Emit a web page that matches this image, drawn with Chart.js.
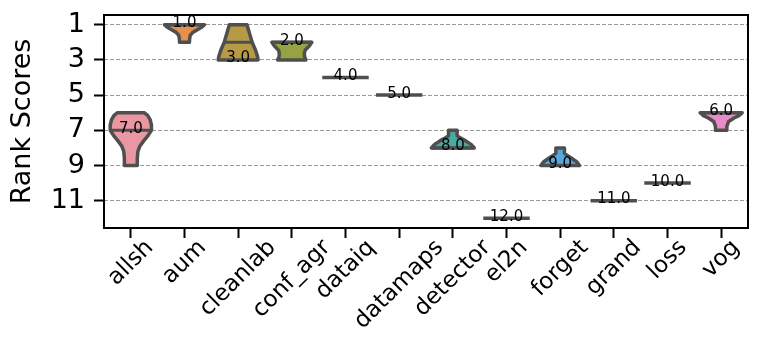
<!DOCTYPE html>
<html>
<head>
<meta charset="utf-8">
<script src="https://cdn.jsdelivr.net/npm/chart.js@4"></script>
<style>
    html, body { margin: 0; padding: 0; background: #ffffff; }
    #wrap { width: 761px; height: 341px; }
</style>
</head>
<body>
<div id="wrap"><canvas id="rankViolins" width="761" height="341"></canvas></div>
<script>
const methods = ['allsh', 'aum', 'cleanlab', 'conf_agr', 'dataiq', 'datamaps', 'detector', 'el2n', 'forget', 'grand', 'loss', 'vog'];
const medianLabels = [7, 1, 3, 2, 4, 5, 8, 12, 9, 11, 10, 6];
const innerLineRanks = [7, 1, 2, 2, 4, 5, 8, 12, 9, 11, 10, 6];
const yTickValues = [1, 3, 5, 7, 9, 11];

// violin outline: rank positions and relative density (1 = full half width)
const profileRanks = [
    [6, 6.15, 6.4, 6.7, 7.0, 7.3, 7.6, 7.9, 8.2, 8.6, 9],
    [1, 1.15, 1.3, 1.45, 1.6, 1.8, 2],
    [1, 1.5, 2, 2.45, 2.8, 3],
    [2, 2.2, 2.45, 2.65, 2.85, 3],
    [4],
    [5],
    [7, 7.3, 7.4, 7.6, 7.8, 8],
    [12],
    [8, 8.3, 8.4, 8.6, 8.8, 9],
    [11],
    [10],
    [6, 6.15, 6.3, 6.5, 6.75, 7]
];
const profileDensities = [
    [0.62, 0.78, 0.9, 0.96, 0.96, 0.8, 0.6, 0.42, 0.33, 0.3, 0.3],
    [0.93, 0.8, 0.58, 0.38, 0.27, 0.24, 0.23],
    [0.41, 0.53, 0.65, 0.81, 0.9, 0.93],
    [0.93, 0.82, 0.62, 0.58, 0.6, 0.66],
    [1],
    [1],
    [0.2, 0.2, 0.3, 0.6, 0.85, 1.0],
    [1],
    [0.2, 0.2, 0.3, 0.55, 0.78, 0.9],
    [1],
    [1],
    [0.98, 0.85, 0.6, 0.35, 0.27, 0.26]
];

const fillColors = ['#eb97a2', '#e6904e', '#b79a45', '#97a343', '#5fae4a', '#4aac8e', '#47aba0', '#4aa8bd', '#58a7dd', '#a898e8', '#dc7fe6', '#e98bc8'];
const edgeColor = '#4f4f4f';
const fontFamily = '"DejaVu Sans", sans-serif';

const violinPlugin = {
    id: 'violins',
    afterDatasetsDraw: function (chart) {
        const ctx = chart.ctx;
        const xScale = chart.scales.x;
        const yScale = chart.scales.y;
        const halfWidth = 0.4 * (xScale.getPixelForValue(1) - xScale.getPixelForValue(0));

        ctx.save();
        ctx.lineJoin = 'round';
        ctx.lineWidth = 3.5;
        ctx.strokeStyle = edgeColor;

        methods.forEach(function (name, i) {
            const cx = xScale.getPixelForValue(i);
            const ranks = profileRanks[i];
            const dens = profileDensities[i];

            if (ranks.length === 1) {
                const y = yScale.getPixelForValue(ranks[0]);
                ctx.lineCap = 'square';
                ctx.beginPath();
                ctx.moveTo(cx - halfWidth * dens[0], y);
                ctx.lineTo(cx + halfWidth * dens[0], y);
                ctx.stroke();
                ctx.lineCap = 'butt';
                return;
            }

            ctx.beginPath();
            for (let k = 0; k < ranks.length; k++) {
                const px = cx + dens[k] * halfWidth;
                const py = yScale.getPixelForValue(ranks[k]);
                if (k === 0) {
                    ctx.moveTo(px, py);
                } else {
                    ctx.lineTo(px, py);
                }
            }
            for (let k = ranks.length - 1; k >= 0; k--) {
                ctx.lineTo(cx - dens[k] * halfWidth, yScale.getPixelForValue(ranks[k]));
            }
            ctx.closePath();
            ctx.fillStyle = fillColors[i];
            ctx.fill();
            ctx.stroke();

            // inner line across the violin
            const r = innerLineRanks[i];
            let d = dens[0];
            for (let k = 1; k < ranks.length; k++) {
                if (r <= ranks[k]) {
                    const t = (r - ranks[k - 1]) / (ranks[k] - ranks[k - 1]);
                    d = dens[k - 1] + t * (dens[k] - dens[k - 1]);
                    break;
                }
            }
            const ly = yScale.getPixelForValue(r);
            ctx.lineWidth = 3;
            ctx.beginPath();
            ctx.moveTo(cx - d * halfWidth, ly);
            ctx.lineTo(cx + d * halfWidth, ly);
            ctx.stroke();
            ctx.lineWidth = 3.5;
        });

        // median labels
        ctx.fillStyle = '#000000';
        ctx.font = '15px ' + fontFamily;
        ctx.textAlign = 'center';
        ctx.textBaseline = 'alphabetic';
        medianLabels.forEach(function (value, i) {
            const cx = xScale.getPixelForValue(i);
            ctx.fillText(value.toFixed(1), cx, yScale.getPixelForValue(value) + 2.5);
        });
        ctx.restore();
    },
    afterDraw: function (chart) {
        const ctx = chart.ctx;
        const area = chart.chartArea;
        const xScale = chart.scales.x;

        ctx.save();
        ctx.strokeStyle = '#000000';
        ctx.lineWidth = 2;
        ctx.strokeRect(area.left, area.top, area.right - area.left, area.bottom - area.top);

        // rotated category labels, centred under each tick
        const size = 23;
        ctx.fillStyle = '#000000';
        ctx.font = size + 'px ' + fontFamily;
        ctx.textAlign = 'center';
        ctx.textBaseline = 'middle';
        const top = area.bottom + 10;
        methods.forEach(function (name, i) {
            const w = ctx.measureText(name).width;
            const h = size * 0.75;
            const half = (w + h) / (2 * Math.SQRT2);
            ctx.save();
            ctx.translate(xScale.getPixelForValue(i), top + half);
            ctx.rotate(-Math.PI / 4);
            ctx.fillText(name, 0, 0);
            ctx.restore();
        });
        ctx.restore();
    }
};

new Chart(document.getElementById('rankViolins').getContext('2d'), {
    type: 'line',
    data: {
        labels: methods,
        datasets: [
            {
                label: 'median rank',
                data: medianLabels,
                showLine: false,
                pointRadius: 0
            }
        ]
    },
    options: {
        responsive: false,
        animation: false,
        events: [],
        layout: {
            padding: { left: 0, right: 13, top: 15, bottom: 0 }
        },
        plugins: {
            legend: { display: false },
            tooltip: { enabled: false }
        },
        scales: {
            x: {
                type: 'category',
                offset: true,
                ticks: { display: false },
                border: { display: false },
                grid: {
                    drawOnChartArea: false,
                    offset: false,
                    tickLength: 10,
                    tickColor: '#000000',
                    tickWidth: 2
                },
                afterFit: function (scale) {
                    scale.height = 113;
                    scale.paddingLeft = 0;
                    scale.paddingRight = 0;
                }
            },
            y: {
                type: 'linear',
                reverse: true,
                min: 0.45,
                max: 12.55,
                afterBuildTicks: function (scale) {
                    scale.ticks = yTickValues.map(function (v) { return { value: v }; });
                },
                ticks: {
                    color: '#000000',
                    padding: 9,
                    font: { family: fontFamily, size: 27 }
                },
                border: { display: false, dash: [4, 2] },
                grid: {
                    color: '#9a9a9a',
                    lineWidth: 1,
                    tickLength: 10,
                    tickColor: '#000000',
                    tickWidth: 2
                },
                title: {
                    display: true,
                    text: 'Rank Scores',
                    color: '#000000',
                    padding: { top: 7, bottom: 0 },
                    font: { family: fontFamily, size: 27 }
                },
                afterFit: function (scale) {
                    scale.width = 104;
                    scale.paddingTop = 0;
                    scale.paddingBottom = 0;
                }
            }
        }
    },
    plugins: [violinPlugin]
});
</script>
</body>
</html>
